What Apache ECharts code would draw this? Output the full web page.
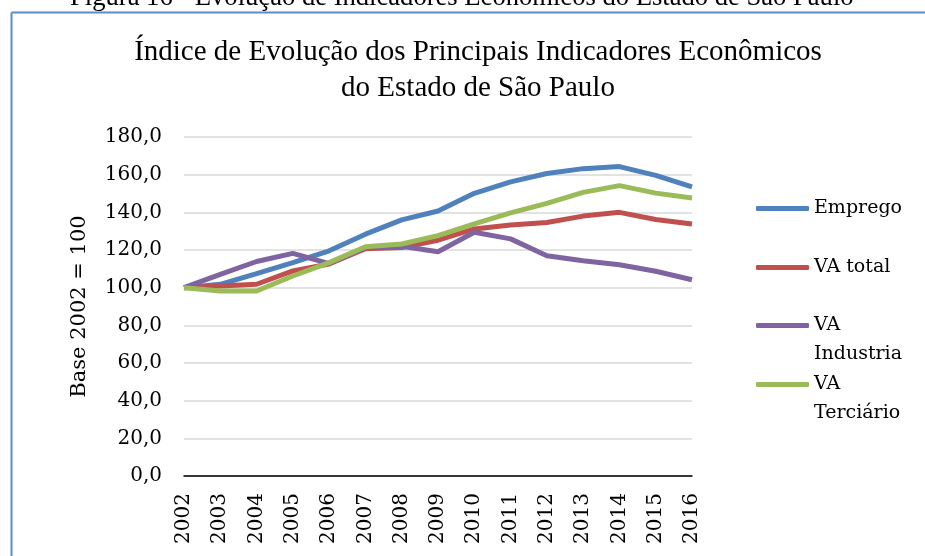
<!DOCTYPE html>
<html>
<head>
<meta charset="utf-8">
<script src="https://cdn.jsdelivr.net/npm/echarts@6/dist/echarts.min.js"></script>
<style>
  html, body { margin: 0; padding: 0; background: #fff; }
  #chart { width: 925px; height: 556px; }
</style>
</head>
<body>
<div id="chart"></div>
<script>
// dados (base 2002 = 100)
var anos = ["2002", "2003", "2004", "2005", "2006", "2007", "2008", "2009",
  "2010", "2011", "2012", "2013", "2014", "2015", "2016"];
var emprego = [100, 101.8, 107.5, 113.3, 119.6, 128.4, 136, 140.7, 150.1, 156.2, 160.6, 163.2, 164.3, 159.6, 153.5];
var vaTotal = [100, 100.9, 101.8, 108.9, 112.6, 120.7, 121.3, 125.2, 131.2, 133.3, 134.6, 138, 140, 136.2, 133.8];
var vaIndustria = [100, 107.1, 113.9, 118.2, 112.8, 121.3, 122, 119.1, 129.4, 125.9, 117, 114.3, 112.2, 108.7, 104.2];
var vaTerciario = [100, 98.2, 98.2, 106.2, 113.3, 121.7, 123.2, 127.6, 133.9, 139.7, 144.8, 150.6, 154.2, 150.2, 147.6];
var nomes = ["Emprego", "VA total", "VA\nIndustria", "VA\nTerciário"];
var cores = ["#4F81BD", "#C0504D", "#8064A2", "#9BBB59"];

var serif = "Liberation Serif";
var serif2 = "DejaVu Serif";

var chart = echarts.init(document.getElementById("chart"));

// uma legenda por item, para controlar a posição de cada um
var legendTops = [207, 266, 324, 383];
var legends = nomes.map(function (n, i) {
  var multi = n.indexOf("\n") >= 0;
  return {
    data: [n],
    left: 751,
    top: legendTops[i] - (multi ? 47 : 18),
    orient: "vertical",
    itemWidth: 53,
    itemHeight: 5,
    itemGap: 0,
    icon: "roundRect",
    // linha vazia acima para alinhar a 1a linha com o traço
    formatter: function (name) { return multi ? "\n" + name : name; },
    textStyle: {
      fontFamily: serif2,
      fontSize: 19,
      color: "#000",
      lineHeight: 29
    }
  };
});

var dados = [emprego, vaTotal, vaIndustria, vaTerciario];

var option = {
  animation: false,
  backgroundColor: "#fff",
  title: {
    text: "Índice de Evolução dos Principais Indicadores Econômicos\ndo Estado de São Paulo",
    left: 473,
    top: 29,
    textAlign: "center",
    textStyle: {
      fontFamily: serif,
      fontWeight: "normal",
      fontSize: 29,
      lineHeight: 36,
      color: "#000"
    }
  },
  legend: legends,
  grid: { left: 184, right: 233, top: 137, bottom: 80 },
  xAxis: {
    type: "category",
    data: anos,
    boundaryGap: false,
    axisLine: { lineStyle: { color: "#000", width: 1.5 } },
    axisTick: { show: false },
    axisLabel: {
      rotate: 90,
      margin: 17,
      fontFamily: serif2,
      fontSize: 20,
      color: "#000",
      interval: 0
    }
  },
  yAxis: {
    type: "value",
    min: 0,
    max: 180,
    interval: 20,
    name: "Base 2002 = 100",
    nameLocation: "middle",
    nameGap: 94,
    nameTextStyle: { fontFamily: serif2, fontSize: 21, color: "#000" },
    axisLine: { show: false },
    axisTick: { show: false },
    splitLine: { lineStyle: { color: "#d9d9d9", width: 1.5 } },
    axisLabel: {
      margin: 22,
      fontFamily: serif2,
      fontSize: 20,
      color: "#000",
      formatter: function (v) { return v.toFixed(1).replace(".", ","); }
    }
  },
  series: nomes.map(function (n, i) {
    return {
      name: n,
      type: "line",
      data: dados[i],
      color: cores[i],
      showSymbol: false,
      symbol: "none",
      lineStyle: { width: 5, color: cores[i] },
      z: 2 + i
    };
  }),
  graphic: [
    {
      type: "text",
      left: 70,
      top: -15,
      style: {
        text: "Figura 16 - Evolução de Indicadores Econômicos do Estado de São Paulo",
        font: "26.6px 'Liberation Serif'",
        fill: "#000"
      }
    },
    {
      type: "line",
      shape: { x1: 11.5, y1: 12.5, x2: 925, y2: 12.5 },
      style: { stroke: "#5a8ccc", lineWidth: 2 }
    },
    {
      type: "line",
      shape: { x1: 11.5, y1: 12.5, x2: 11.5, y2: 556 },
      style: { stroke: "#5a8ccc", lineWidth: 2 }
    }
  ]
};

chart.setOption(option);
</script>
</body>
</html>
